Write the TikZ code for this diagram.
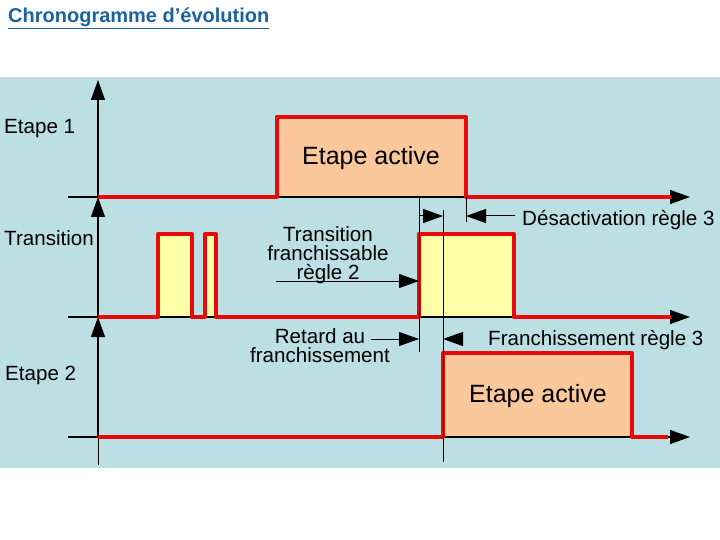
\documentclass[tikz,border=0pt]{standalone}
\usepackage{fontspec}
\setmainfont{Liberation Sans}
\usetikzlibrary{arrows.meta}

\definecolor{panel}{RGB}{187,223,227}
\definecolor{sigred}{RGB}{232,10,10}
\definecolor{peach}{RGB}{251,200,155}
\definecolor{paleyellow}{RGB}{255,255,168}
\definecolor{titleblue}{RGB}{28,98,160}

\begin{document}
\begin{tikzpicture}[
    x=1pt, y=-1pt,
    fleche/.tip    = {Triangle[length=20pt, width=14pt]},
    axe/.style     = {-fleche, black, line width=1.1pt},
    cote/.style    = {black, line width=1pt},
    coteF/.style   = {cote, -fleche},
    signal/.style  = {draw=sigred, line width=4pt, line join=round},
    lbl/.style     = {inner sep=0pt, font=\fontsize{20.6}{19}\selectfont},
    big/.style     = {inner sep=0pt, font=\fontsize{25}{28}\selectfont},
    titre/.style   = {inner sep=0pt, text=titleblue, font=\fontsize{20}{22}\selectfont\bfseries}
]

% FOND
\fill[white] (0,0) rectangle (720,540);
\fill[panel] (0,77) rectangle (720,468);
\useasboundingbox (0,0) rectangle (720,540);

\node[titre, anchor=west] (titre) at (8,18) {\underline{Chronogramme d’évolution}};

% REPERES (origines, debuts et fins des axes)
\foreach \y/\n in {197/1, 317/2, 437/3}{
  \coordinate (o\n) at (98,\y);
  \coordinate (d\n) at (68,\y);
  \coordinate (f\n) at (690,\y);
}
\coordinate (haut) at (98,80);
\coordinate (bas)  at (98,465);

% ZONES ACTIVES
\fill[peach]      (277,117) rectangle (466,197);
\fill[peach]      (443,353) rectangle (632,437);
\fill[paleyellow] (158,234) rectangle (192,317);
\fill[paleyellow] (205,234) rectangle (216,317);
\fill[paleyellow] (419,234) rectangle (514,317);

% AXES
\foreach \n in {1,2,3}{ \draw[axe] (d\n) -- (f\n); }
\draw[axe] (o1) -- (haut);
\draw[axe] (o2) -- (o1);
\draw[axe] (o3) -- (o2);
\draw[cote] (bas) -- (o3);

% SIGNAUX
\draw[signal] (o1) -| (277,117) -| (466,197) -- (671,197);
\draw[signal] (o2) -| (158,234) -| (192,317) -| (205,234) -| (216,317)
                   -| (419,234) -| (514,317) -- (671,317);
\draw[signal] (o3) -| (443,353) -| (632,437) -- (668,437);

% LIBELLES DES AXES
\node[lbl, anchor=west] (etape1) at (4,129) {Etape 1};
\node[lbl, anchor=west] (trans)  at (4,238) {Transition};
\node[lbl, anchor=west] (etape2) at (5,375) {Etape 2};

\node[big] (actif1) at (371,158) {Etape active};
\node[big] (actif2) at (538,396) {Etape active};

% COTES
\coordinate (tA1) at (419,197);  \coordinate (tA2) at (419,352);
\coordinate (tB1) at (443,210);  \coordinate (tB2) at (443,462);
\coordinate (tC1) at (466,197);  \coordinate (tC2) at (466,222);
\draw[cote] (tA1) -- (tA2);
\draw[cote] (tB1) -- (tB2);
\draw[cote] (tC1) -- (tC2);

\coordinate (dA) at (419,216);  \coordinate (dB) at (443,216);
\coordinate (dC) at (515,216);  \coordinate (dD) at (466,216);
\draw[coteF] (dA) -- (dB);
\draw[coteF] (dC) -- (dD);
\node[lbl, anchor=west] (desact) at (522,220) {Désactivation règle 3};

\node[lbl, align=center] (franch) at (328,255) {Transition\\franchissable\\règle 2};
\coordinate (fA) at (276,281);  \coordinate (fB) at (419,281);
\draw[coteF] (fA) -- (fB);

\node[lbl, align=center] (retard) at (320,346) {Retard au\\franchissement};
\coordinate (rA) at (371,339);  \coordinate (rB) at (419,339);
\coordinate (rC) at (462,339);  \coordinate (rD) at (443,339);
\draw[coteF] (rA) -- (rB);
\draw[coteF] (rC) -- (rD);
\node[lbl, anchor=west] (franch3) at (488,340) {Franchissement règle 3};

\end{tikzpicture}
\end{document}
